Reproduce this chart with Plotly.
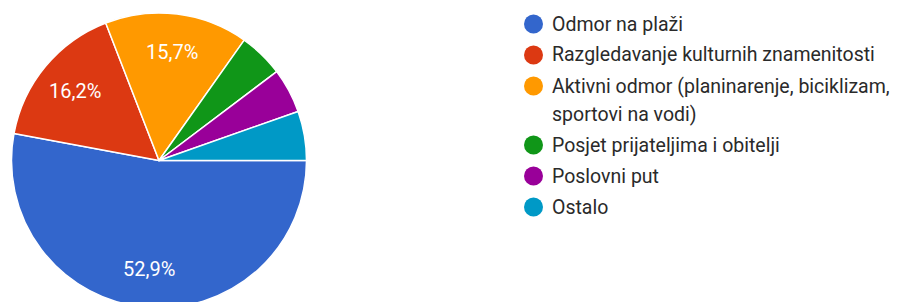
import plotly.graph_objects as go
import textwrap
import math

categories = [
    "Odmor na plaži",
    "Razgledavanje kulturnih znamenitosti",
    "Aktivni odmor (planinarenje, biciklizam, sportovi na vodi)",
    "Posjet prijateljima i obitelji",
    "Poslovni put",
    "Ostalo",
]
counts = [108, 33, 32, 10, 10, 11]
colors = ["#3366cc", "#dc3912", "#ff9900", "#109618", "#990099", "#0099c6"]

OFF = 8  # page body margin
W, H = 895, 320
FONT = "Roboto, Arial, sans-serif"

# pie geometry (page pixels)
cx, cy, R = 159, 160.5, 147.5
total = sum(counts)

fig = go.Figure()
fig.add_trace(go.Pie(
    labels=categories,
    values=counts,
    sort=False,
    direction="clockwise",
    rotation=90,
    marker=dict(colors=colors, line=dict(color="white", width=1.5)),
    textinfo="none",
    hoverinfo="label+percent",
    showlegend=False,
    domain=dict(x=[(cx - R - OFF) / W, (cx + R - OFF) / W],
                y=[1 - (cy + R - OFF) / H, 1 - (cy - R - OFF) / H]),
))

# percentage labels for slices larger than 10 %
cum = 0
for c in counts:
    frac = c / total
    mid = (cum + frac / 2) * 2 * math.pi  # clockwise from 3 o'clock
    cum += frac
    if frac < 0.1:
        continue
    rr = 0.74 * R
    px = cx + rr * math.cos(mid) - OFF
    py = cy + rr * math.sin(mid) - OFF
    txt = f"{frac * 100:.1f}%".replace(".", ",")
    fig.add_annotation(x=px / W, y=1 - py / H, xref="paper", yref="paper",
                       text=txt, showarrow=False, xanchor="center", yanchor="middle",
                       font=dict(family=FONT, size=20, color="white"))

# custom legend (circle markers + text)
leg_x_marker = 533.5
leg_x_text = 552
row_y = 24
row_gap = 31
wrap_gap = 28
for cat, col in zip(categories, colors):
    lines = textwrap.wrap(cat, 40)
    fig.add_shape(type="circle", xref="paper", yref="paper",
                  x0=(leg_x_marker - 9.5 - OFF) / W, x1=(leg_x_marker + 9.5 - OFF) / W,
                  y0=1 - (row_y + 9.5 - OFF) / H, y1=1 - (row_y - 9.5 - OFF) / H,
                  fillcolor=col, line=dict(width=0))
    for j, ln in enumerate(lines):
        yy = row_y + j * wrap_gap
        fig.add_annotation(x=(leg_x_text - OFF) / W, y=1 - (yy - OFF) / H,
                           xref="paper", yref="paper",
                           text=ln, showarrow=False, xanchor="left", yanchor="middle",
                           xshift=-2,
                           font=dict(family=FONT, size=19.5, color="#2a2a2a"))
    row_y += row_gap + (len(lines) - 1) * wrap_gap

fig.update_layout(
    width=W, height=H,
    margin=dict(l=0, r=0, t=0, b=0),
    paper_bgcolor="white",
    plot_bgcolor="white",
    separators=",.",
)
fig.write_html("out.html")
